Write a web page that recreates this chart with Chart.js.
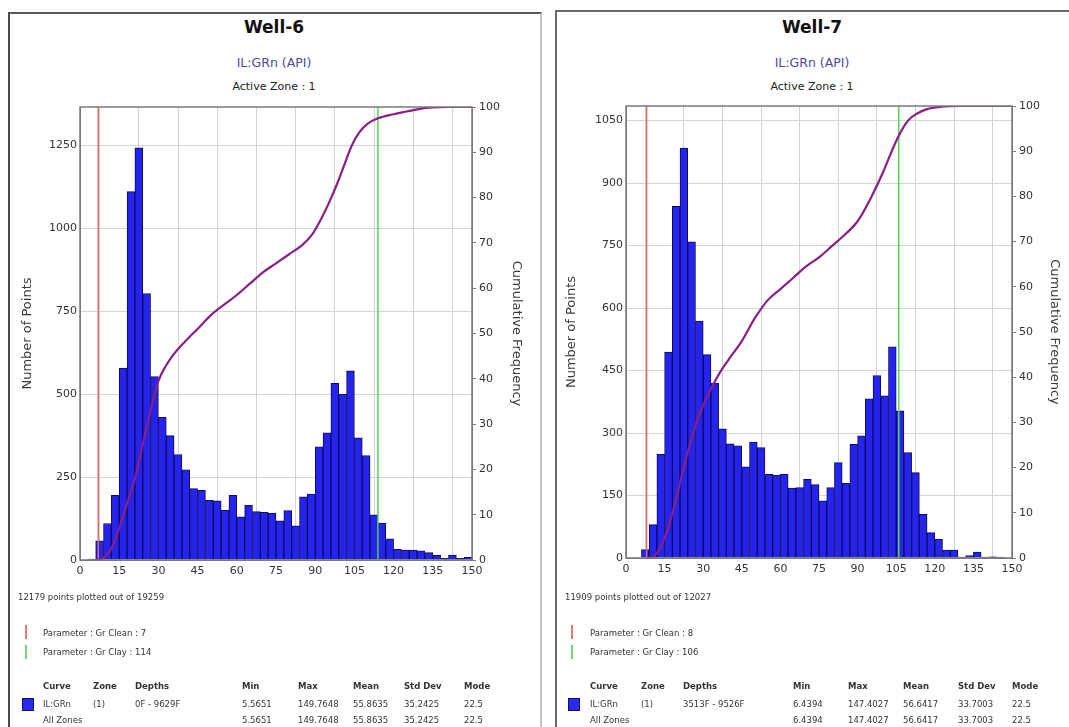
<!DOCTYPE html>
<html>
<head>
<meta charset="utf-8">
<script src="https://cdn.jsdelivr.net/npm/chart.js@4.4.1/dist/chart.umd.min.js"></script>
<style>
  body { margin: 0; background: #fff; width: 1069px; height: 727px; overflow: hidden; position: relative; font-family: "DejaVu Sans", sans-serif; }
  .box { position: absolute; box-sizing: border-box; }
  .t { position: absolute; white-space: nowrap; color: #2a2a2a; }
  canvas { position: absolute; }
</style>
</head>
<body>
<div class="box" style="left:8px;top:12px;width:534px;height:730px;border-left:2px solid #4a4a4a;border-top:2px solid #5a5a5a;border-right:2px solid #c4c4c4;"></div>
<div class="box" style="left:555px;top:10px;width:530px;height:730px;border-left:2px solid #6a6a6a;border-top:2px solid #6a6a6a;"></div>
<canvas id="well6" width="530" height="500" style="left:10px;top:95px"></canvas>
<canvas id="well7" width="512" height="500" style="left:556px;top:95px"></canvas>
<script>
// GR histogram bins, 3 API wide, from 0 to 150 (bin centres)
const binCentres = [1.5, 4.5, 7.5, 10.5, 13.5, 16.5, 19.5, 22.5, 25.5, 28.5,
  31.5, 34.5, 37.5, 40.5, 43.5, 46.5, 49.5, 52.5, 55.5, 58.5,
  61.5, 64.5, 67.5, 70.5, 73.5, 76.5, 79.5, 82.5, 85.5, 88.5,
  91.5, 94.5, 97.5, 100.5, 103.5, 106.5, 109.5, 112.5, 115.5, 118.5,
  121.5, 124.5, 127.5, 130.5, 133.5, 136.5, 139.5, 142.5, 145.5, 148.5];

const well6Counts = [0, 3, 58, 110, 195, 578, 1110, 1242, 803, 553,
  430, 375, 318, 272, 215, 210, 180, 178, 150, 195,
  130, 165, 146, 144, 141, 118, 149, 103, 190, 199,
  341, 383, 532, 499, 570, 368, 315, 136, 111, 64,
  32, 30, 30, 28, 22, 15, 5, 15, 5, 8];

const well7Counts = [0, 0, 20, 80, 249, 494, 844, 984, 759, 569,
  488, 420, 310, 274, 269, 219, 278, 265, 201, 199,
  201, 168, 169, 189, 176, 137, 169, 229, 179, 273,
  293, 382, 438, 389, 507, 353, 253, 205, 105, 61,
  45, 19, 19, 2, 6, 14, 2, 3, 2, 0];

// cumulative frequency curves (%)
const well6CumGr = [6, 9, 12, 15, 18, 21, 24, 27, 30, 33, 36, 39, 42, 45, 50, 55, 60, 65, 70, 75,
  80, 85, 89, 92, 95, 98, 101, 104, 107, 110, 114, 120, 125, 130, 135, 141, 150];
const well6CumPct = [0, 0.5, 2.5, 7, 12.5, 18, 25.5, 33, 39.5, 43, 45.5, 47.5, 49.3, 51, 54, 56.3, 58.5, 61, 63.5, 65.5,
  67.5, 69.5, 72, 75, 78.5, 82.5, 87, 91.5, 94.5, 96.3, 97.5, 98.4, 99, 99.6, 99.9, 100, 100];

const well7CumGr = [8, 10.5, 13, 16, 19, 22, 25, 28, 31, 34, 37, 40, 45, 50, 55, 60, 65, 70, 75, 80,
  85, 90, 95, 100, 104, 107, 110, 113, 117, 122, 130, 150];
const well7CumPct = [0, 0.3, 2, 6, 12, 19, 25.5, 31, 35, 38.5, 41.5, 44, 48, 53, 57, 59.5, 62, 64.5, 66.5, 69,
  71.5, 74.5, 79.5, 85.5, 91, 94.5, 97, 98.3, 99.3, 99.8, 100, 100];

// Gr Clean / Gr Clay cut-offs
const well6Params = [7, 114];
const well7Params = [8, 106];

const statHeaders = ['Curve', 'Zone', 'Depths', 'Min', 'Max', 'Mean', 'Std Dev', 'Mode'];
const well6Row = ['IL:GRn', '(1)', '0F - 9629F', '5.5651', '149.7648', '55.8635', '35.2425', '22.5'];
const well6All = ['All Zones', '', '', '5.5651', '149.7648', '55.8635', '35.2425', '22.5'];
const well7Row = ['IL:GRn', '(1)', '3513F - 9526F', '6.4394', '147.4027', '56.6417', '33.7003', '22.5'];
const well7All = ['All Zones', '', '', '6.4394', '147.4027', '56.6417', '33.7003', '22.5'];

function addText(txt, x, y, css) {
  const d = document.createElement('div');
  d.className = 't';
  d.textContent = txt;
  d.style.left = x + 'px';
  d.style.top = y + 'px';
  d.style.transform = 'translateY(-50%)';
  Object.assign(d.style, css || {});
  document.body.appendChild(d);
  return d;
}

function addMark(x, y, h, color) {
  const d = document.createElement('div');
  d.style.cssText = 'position:absolute;width:2px;left:' + x + 'px;top:' + y + 'px;height:' + h + 'px;background:' + color;
  document.body.appendChild(d);
}

function panelText(o) {
  const mid = { transform: 'translate(-50%,-50%)' };
  addText(o.title, o.cx, 27, Object.assign({ fontWeight: 'bold', fontSize: '17px', color: '#111' }, mid));
  addText('IL:GRn (API)', o.cx, 62, Object.assign({ fontSize: '12.5px', color: '#4b4b9c' }, mid));
  addText('Active Zone : 1', o.cx, 86, Object.assign({ fontSize: '11px', color: '#222' }, mid));

  const small = { fontSize: '8.5px', color: '#333' };
  addText(o.points, o.x0, 597, small);
  addMark(o.markX, 625, 14, '#e27a7a');
  addText('Parameter : Gr Clean : ' + o.params[0], o.cols[0], 633, small);
  addMark(o.markX, 645, 14, '#7ad67a');
  addText('Parameter : Gr Clay : ' + o.params[1], o.cols[0], 652, small);

  statHeaders.forEach((h, i) => addText(h, o.cols[i], 686, Object.assign({ fontWeight: 'bold' }, small)));
  o.row.forEach((v, i) => addText(v, o.cols[i], 704, small));
  o.all.forEach((v, i) => addText(v, o.cols[i], 720, small));
  const sq = document.createElement('div');
  sq.style.cssText = 'position:absolute;left:' + (o.markX - 3) + 'px;top:698px;width:10px;height:11px;background:#2a2af0;border:1px solid #101060';
  document.body.appendChild(sq);
}

const frame = {
  id: 'frame',
  afterDatasetsDraw(chart) {
    const { ctx, chartArea: a } = chart;
    ctx.save();
    ctx.strokeStyle = '#7a7a7a';
    ctx.lineWidth = 1.5;
    ctx.strokeRect(a.left, a.top, a.right - a.left, a.bottom - a.top);
    ctx.restore();
  }
};

function makeChart(id, counts, cumGr, cumPct, params, o) {
  const tickFont = { family: 'DejaVu Sans', size: 11 };
  const titleFont = { family: 'DejaVu Sans', size: 13 };
  const plain = { useGrouping: false };
  const vline = (x, color) => ({
    type: 'line', yAxisID: 'y2', order: 1,
    data: [{ x: x, y: 0 }, { x: x, y: 100 }],
    borderColor: color, borderWidth: 1.5, pointRadius: 0
  });
  return new Chart(document.getElementById(id), {
    type: 'bar',
    data: {
      datasets: [
        {
          type: 'line', yAxisID: 'y2', order: 0,
          data: cumGr.map((x, i) => ({ x: x, y: cumPct[i] })),
          borderColor: '#8a1f86', borderWidth: 2.2, pointRadius: 0,
          cubicInterpolationMode: 'monotone'
        },
        vline(params[0], '#e36a6a'),
        vline(params[1], '#55d655'),
        {
          type: 'bar', yAxisID: 'y', order: 2,
          data: binCentres.map((x, i) => ({ x: x, y: counts[i] })),
          backgroundColor: '#2424ee',
          borderColor: '#0c0c55',
          borderWidth: 1,
          barPercentage: 1,
          categoryPercentage: 1
        }
      ]
    },
    options: {
      responsive: false,
      animation: false,
      layout: { padding: { top: o.padTop, left: 0, right: 0, bottom: 0 } },
      plugins: { legend: { display: false }, tooltip: { enabled: false } },
      scales: {
        x: {
          type: 'linear', min: 0, max: 150, offset: false,
          ticks: { stepSize: 15, format: plain, font: tickFont, color: '#333', padding: 5, maxRotation: 0 },
          grid: { color: '#d4d4d4', drawTicks: false },
          border: { color: '#7a7a7a' },
          afterFit: s => { s.height = o.xH; }
        },
        y: {
          position: 'left', min: 0, max: o.yMax,
          ticks: { stepSize: o.yStep, format: plain, includeBounds: false, font: tickFont, color: '#333', padding: 3 },
          grid: { color: '#d4d4d4', drawTicks: false },
          border: { color: '#7a7a7a' },
          title: { display: true, text: 'Number of Points', font: titleFont, color: '#3a3a3a', padding: { top: o.padL, bottom: 0 } },
          afterFit: s => { s.width = o.yW; }
        },
        y2: {
          position: 'right', min: 0, max: 100,
          ticks: { stepSize: 10, format: plain, font: tickFont, color: '#333', padding: 3 },
          grid: { drawOnChartArea: false, color: '#7a7a7a', tickLength: 4 },
          border: { color: '#7a7a7a' },
          title: { display: true, text: 'Cumulative Frequency', font: titleFont, color: '#3a3a3a', padding: { top: o.padR, bottom: 0 } },
          afterFit: s => { s.width = o.y2W; }
        }
      }
    },
    plugins: [frame]
  });
}

makeChart('well6', well6Counts, well6CumGr, well6CumPct, well6Params,
  { yMax: 1365, yStep: 250, padTop: 12, xH: 35, yW: 70, y2W: 68, padL: 10, padR: 16 });
makeChart('well7', well7Counts, well7CumGr, well7CumPct, well7Params,
  { yMax: 1085, yStep: 150, padTop: 11, xH: 37, yW: 70, y2W: 56, padL: 8, padR: 6 });

panelText({ title: 'Well-6', cx: 274, x0: 18, markX: 25, params: well6Params,
  points: '12179 points plotted out of 19259',
  cols: [43, 93, 135, 242, 298, 353, 404, 464], row: well6Row, all: well6All });
panelText({ title: 'Well-7', cx: 812, x0: 565, markX: 571, params: well7Params,
  points: '11909 points plotted out of 12027',
  cols: [590, 641, 683, 793, 848, 903, 958, 1012], row: well7Row, all: well7All });
</script>
</body>
</html>
